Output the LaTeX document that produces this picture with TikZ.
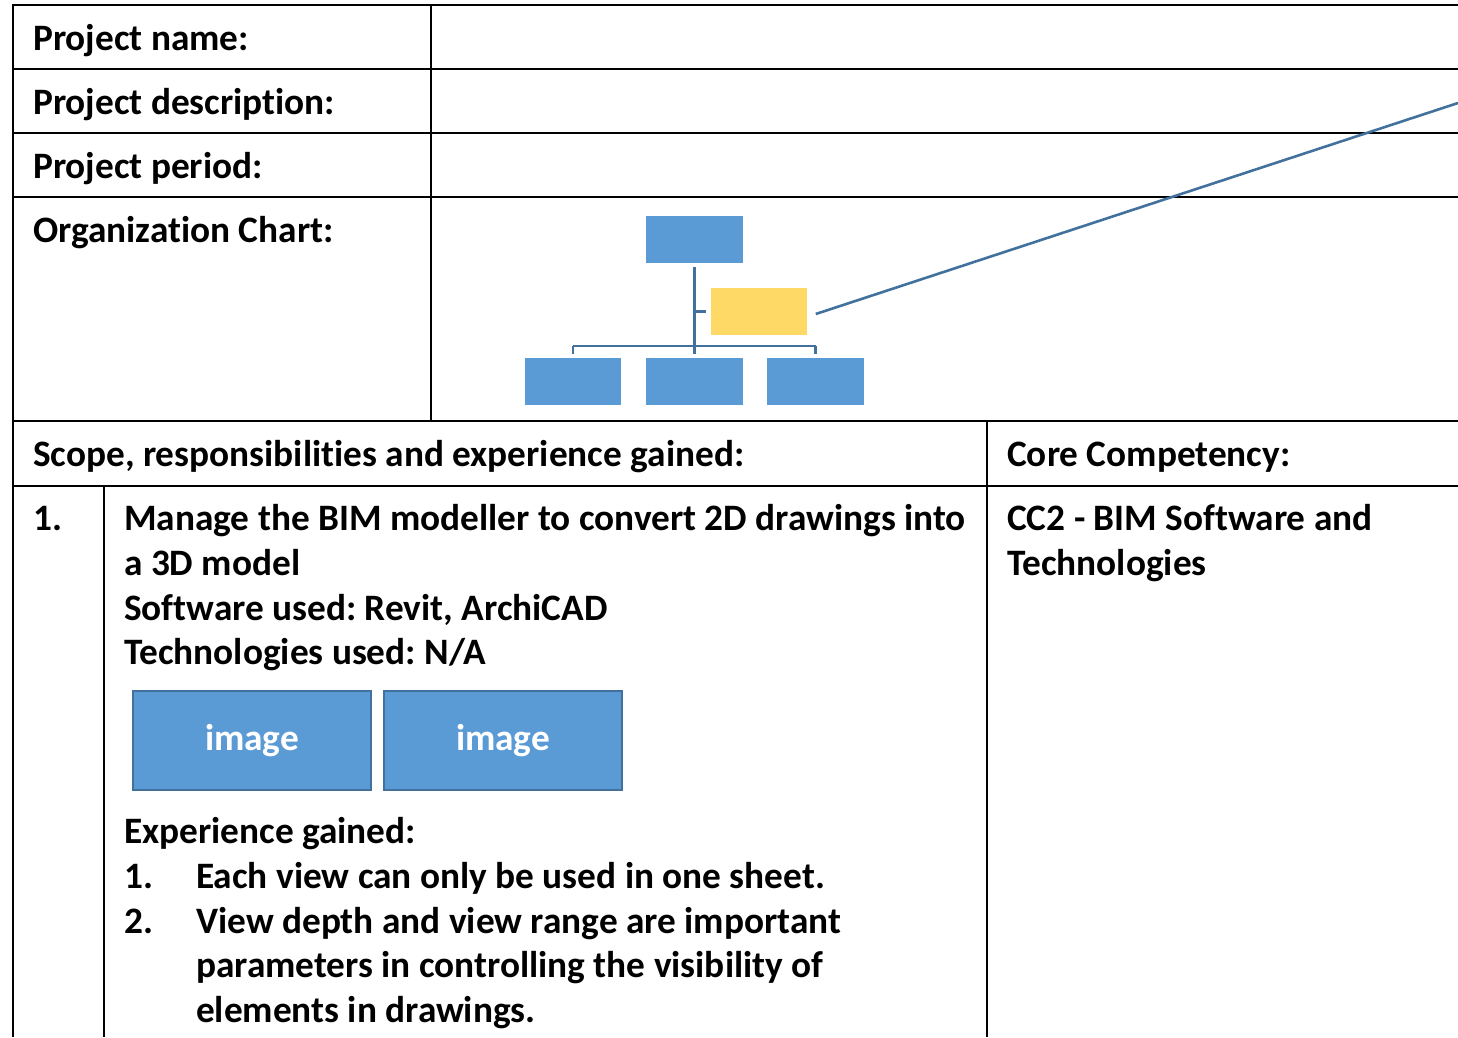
\documentclass[tikz,border=0pt]{standalone}
\usepackage{fontspec}
\setmainfont{Carlito}[Ligatures=NoCommon]
\frenchspacing
\definecolor{boxblue}{HTML}{5B9BD5}
\definecolor{linkblue}{HTML}{41719C}
\definecolor{goldbox}{HTML}{FFD966}
\newcommand\bigtxt{\fontsize{37.3}{45}\selectfont\bfseries}
\tikzset{
  txt/.style={anchor=base west, inner sep=0pt, font=\bigtxt},
  grid/.style={black, line width=2.6pt},
  orgbox/.style={draw=white, line width=1.5pt, fill=boxblue, minimum width=98pt, minimum height=48pt, inner sep=0pt},
  asstbox/.style={orgbox, fill=goldbox},
  link/.style={linkblue, line width=2.6pt},
  imgbox/.style={draw=linkblue, line width=2pt, fill=boxblue, minimum width=238pt, minimum height=99pt, inner sep=0pt, font=\bigtxt, text=white}
}
\begin{document}
\begin{tikzpicture}[x=1pt,y=-1pt]
\useasboundingbox (0,0) rectangle (1458,1037);
% table grid
\draw[grid] (13,1037) -- (13,5) -- (1458,5);
\foreach \yy in {69,133,197,421,486} \draw[grid] (13,\yy) -- (1458,\yy);
\draw[grid] (431,5) -- (431,421);
\draw[grid] (987,421) -- (987,1037);
\draw[grid] (104,486) -- (104,1037);
% labels
\node[txt] (t1) at (33,50) {Project name:};
\node[txt] (t2) at (33,114) {Project description:};
\node[txt] (t3) at (33,178) {Project period:};
\node[txt] (t4) at (33,242) {Organization Chart:};
\node[txt] (t5) at (33,466) {Scope, responsibilities and experience gained:};
\node[txt] (t6) at (1007,466) {Core Competency:};
\node[txt] (n1) at (33,530) {1.};
\node[txt] (l1) at (124,530) {Manage the BIM modeller to convert 2D drawings into};
\node[txt] (l2) at (124,575) {a 3D model};
\node[txt] (l3) at (124,620) {Software used: Revit, ArchiCAD};
\node[txt] (l4) at (124,664) {Technologies used: N/A};
\node[txt] (c1) at (1007,530) {CC2 - BIM Software and};
\node[txt] (c2) at (1007,575) {Technologies};
\node[txt] (e0) at (124,843) {Experience gained:};
\node[txt] (en1) at (124,888) {1.};
\node[txt] (e1) at (196,888) {Each view can only be used in one sheet.};
\node[txt] (en2) at (124,933) {2.};
\node[txt] (e2) at (196,933) {View depth and view range are important};
\node[txt] (e3) at (196,977) {parameters in controlling the visibility of};
\node[txt] (e4) at (196,1022) {elements in drawings.};
% image boxes
\node[imgbox] (img1) at (252,740.5) {\raisebox{-2pt}{image}};
\node[imgbox] (img2) at (503,740.5) {\raisebox{-2pt}{image}};
% org chart
\coordinate (busL) at (573,346);
\coordinate (busM) at (694.5,346);
\coordinate (busR) at (815.5,346);
\coordinate (tick) at (694.5,311.5);
\coordinate (callout) at (1458,103);
\node[orgbox] (top) at (694.5,239.5) {};
\node[asstbox] (asst) at (759,311.5) {};
\node[orgbox] (b1) at (573,381.5) {};
\node[orgbox] (b2) at (694.5,381.5) {};
\node[orgbox] (b3) at (815.5,381.5) {};
\draw[link] ([yshift=-3pt]top.south) -- ([yshift=3pt]b2.north);
\draw[link] (busL) -- (busR);
\draw[link] (busL) -- ([yshift=3pt]b1.north);
\draw[link] (busR) -- ([yshift=3pt]b3.north);
\draw[link] (tick) -- ([xshift=-3pt]asst.west);
\draw[link] ([xshift=7pt,yshift=-2.5pt]asst.east) -- (callout);
\end{tikzpicture}
\end{document}
